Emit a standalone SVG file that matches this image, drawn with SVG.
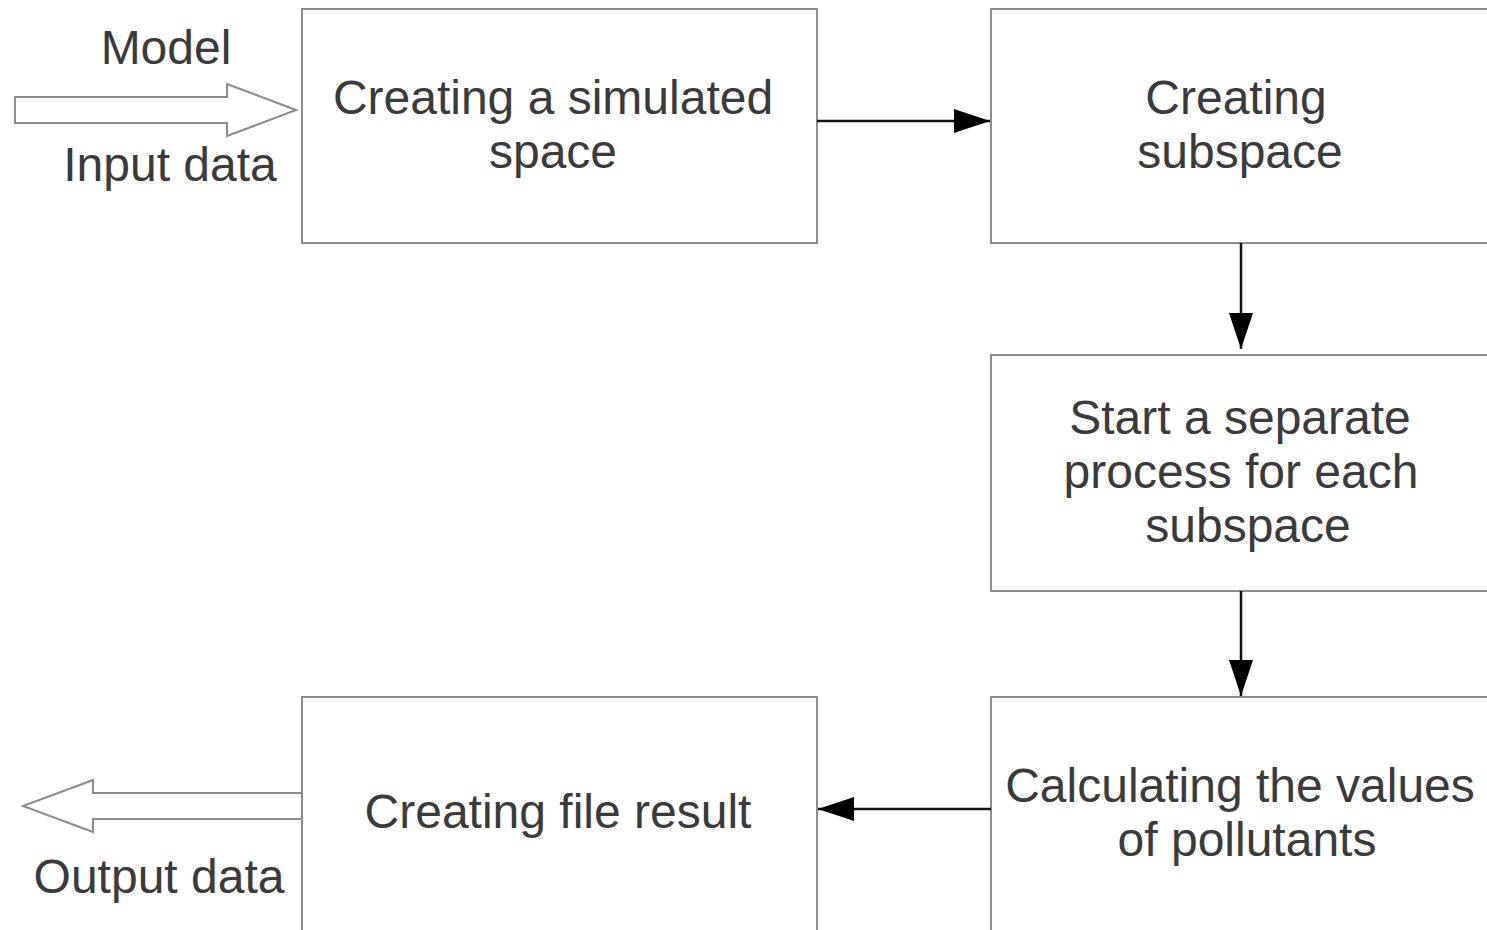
<svg xmlns="http://www.w3.org/2000/svg" width="1487" height="930" viewBox="0 0 1487 930">
<style>
.box{fill:#fff;stroke:#8c8c8c;stroke-width:2}
.t{font-family:"Liberation Sans",Arial,sans-serif;font-size:48px;fill:#3a3a3a;text-anchor:middle}
.big{fill:#fff;stroke:#8c8c8c;stroke-width:2}
.con{stroke:#111;stroke-width:2.5;fill:none}
</style>
<defs>
<marker id="ah" viewBox="0 0 36 24" refX="36" refY="12" markerWidth="36" markerHeight="24" markerUnits="userSpaceOnUse" orient="auto">
<path d="M0,0 L36,12 L0,24 Z" fill="#000"/>
</marker>
</defs>
<rect width="1487" height="930" fill="#fff"/>
<g id="input-arrow">
<path class="big" d="M15,97 L227,97 L227,84 L296,110 L227,136 L227,123 L15,123 Z"/>
<text class="t" x="166" y="64">Model</text>
<text class="t" x="170" y="181">Input data</text>
</g>
<g id="output-arrow">
<path class="big" d="M302,793 L93,793 L93,780 L23,806 L93,832 L93,819 L302,819"/>
<text class="t" x="159" y="893">Output data</text>
</g>
<g id="n1">
<rect class="box" x="302" y="9" width="515" height="234"/>
<text class="t" x="553" y="114">Creating a simulated</text>
<text class="t" x="553" y="168">space</text>
</g>
<g id="n2">
<rect class="box" x="991" y="9" width="510" height="234"/>
<text class="t" x="1236" y="114">Creating</text>
<text class="t" x="1240" y="168">subspace</text>
</g>
<g id="n3">
<rect class="box" x="991" y="355" width="510" height="236"/>
<text class="t" x="1240" y="434">Start a separate</text>
<text class="t" x="1241" y="488">process for each</text>
<text class="t" x="1248" y="542">subspace</text>
</g>
<g id="n4">
<rect class="box" x="991" y="697" width="510" height="250"/>
<text class="t" x="1240" y="802">Calculating the values</text>
<text class="t" x="1247" y="856">of pollutants</text>
</g>
<g id="n5">
<rect class="box" x="302" y="697" width="515" height="250"/>
<text class="t" x="558" y="828">Creating file result</text>
</g>
<g id="connectors">
<line class="con" x1="817" y1="121" x2="990" y2="121" marker-end="url(#ah)"/>
<line class="con" x1="1241" y1="243" x2="1241" y2="349" marker-end="url(#ah)"/>
<line class="con" x1="1241" y1="591" x2="1241" y2="696" marker-end="url(#ah)"/>
<line class="con" x1="991" y1="809" x2="818" y2="809" marker-end="url(#ah)"/>
</g>
</svg>
